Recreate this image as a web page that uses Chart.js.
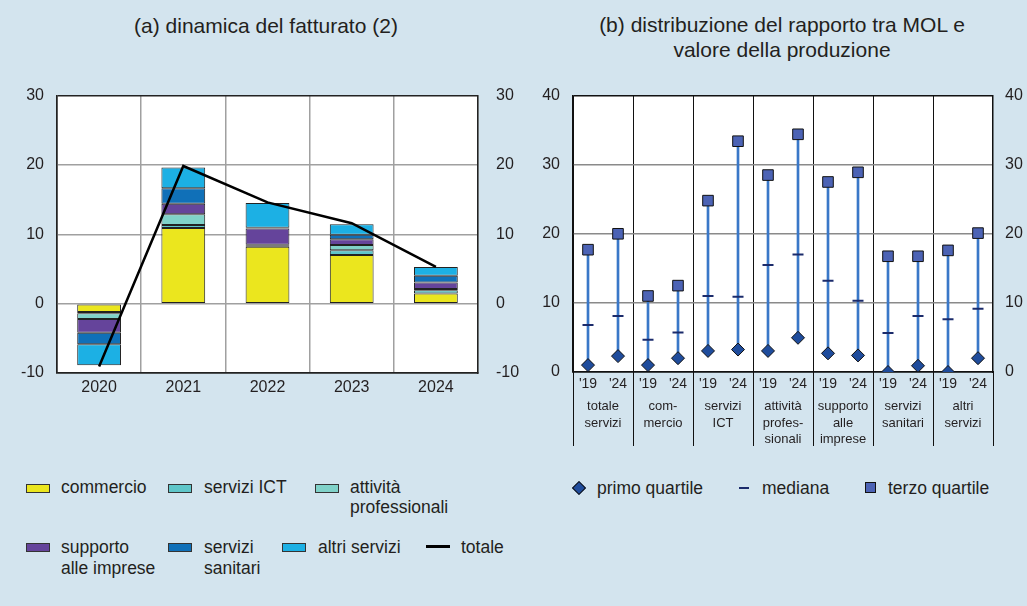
<!DOCTYPE html>
<html>
<head>
<meta charset="utf-8">
<script src="https://cdn.jsdelivr.net/npm/chart.js@4.4.1/dist/chart.umd.min.js"></script>
<style>
body{margin:0;background:#d3e4ee;font-family:"Liberation Sans",Arial,sans-serif;color:#231f20;}
#page{position:relative;width:1027px;height:606px;overflow:hidden;}
.title{position:absolute;text-align:center;font-size:21px;line-height:25px;white-space:nowrap;}
.cv{position:absolute;}
.lt{position:absolute;font-size:17.5px;line-height:20px;white-space:nowrap;}
.box{position:absolute;width:22px;height:7px;border:1px solid #333;}
</style>
</head>
<body>
<div id="page">
  <div class="title" style="left:66px;width:400px;top:13px;">(a) dinamica del fatturato (2)</div>
  <div class="title" style="left:582px;width:400px;top:12px;">(b) distribuzione del rapporto tra MOL e<br>valore della produzione</div>

  <div class="cv" style="left:0;top:68px;width:530px;height:334px;"><canvas id="left"></canvas></div>
  <div class="cv" style="left:520px;top:73px;width:507px;height:388px;"><canvas id="right"></canvas></div>

  <div id="legLeft"></div>
  <div id="legRight"></div>
</div>

<script>
// (a) dinamica del fatturato, contributi per settore
const years = ["2020", "2021", "2022", "2023", "2024"];
const commercio = [-1.2, 10.9, 8.2, 7.0, 1.45];
const serviziICT = [-0.2, 0.45, 0.15, 0.7, 0.5];
const attivitaProf = [-0.8, 1.55, 0.15, 0.75, 0.15];
const supportoImprese = [-2.0, 1.5, 2.35, 0.85, 0.95];
const serviziSanitari = [-1.65, 2.25, 0.1, 0.65, 0.97];
const altriServizi = [-3.05, 3.0, 3.55, 1.5, 1.25];
const totale = [-9.05, 19.85, 14.6, 11.6, 5.3];
const leftTicks = [-10, 0, 10, 20, 30];

// (b) rapporto MOL / valore della produzione
const periodi = ["'19", "'24", "'19", "'24", "'19", "'24", "'19", "'24", "'19", "'24", "'19", "'24", "'19", "'24"];
const settori = [["totale", "servizi"], ["com-", "mercio"], ["servizi", "ICT"], ["attività", "profes-", "sionali"],
                 ["supporto", "alle", "imprese"], ["servizi", "sanitari"], ["altri", "servizi"]];
const primoQuartile = [1.0, 2.3, 1.0, 2.0, 3.05, 3.25, 3.05, 4.95, 2.7, 2.4, 0.0, 0.9, 0.0, 2.0];
const mediana = [6.8, 8.1, 4.65, 5.7, 11.0, 10.9, 15.5, 17.0, 13.2, 10.3, 5.65, 8.1, 7.65, 9.15];
const terzoQuartile = [17.7, 20.0, 11.0, 12.5, 24.8, 33.4, 28.5, 34.4, 27.5, 28.9, 16.75, 16.75, 17.6, 20.1];
const rightTicks = [0, 10, 20, 30, 40];

const colors = {
  commercio: "#ebe61e",
  ict: "#5ec6c9",
  prof: "#80d2c9",
  supporto: "#65449b",
  sanitari: "#1070b8",
  altri: "#1cb0e4"
};
const FONT = "Liberation Sans";
const TXT = "#231f20";

const whiteArea = {
  id: "whiteArea",
  beforeDraw(chart) {
    const a = chart.chartArea, ctx = chart.ctx;
    ctx.save();
    ctx.fillStyle = "#fff";
    ctx.fillRect(a.left, a.top, a.right - a.left, a.bottom - a.top);
    ctx.restore();
  }
};

function fixW(w) { return s => { s.width = w; }; }
function fixH(h) { return s => { s.height = h; }; }

const bar = (label, data, color) => ({
  label, data, backgroundColor: color, borderColor: "#222", borderWidth: 1,
  borderSkipped: false, order: 1, stack: "s"
});

new Chart(document.getElementById("left"), {
  type: "bar",
  data: {
    labels: years,
    datasets: [
      bar("commercio", commercio, colors.commercio),
      bar("servizi ICT", serviziICT, colors.ict),
      bar("attività professionali", attivitaProf, colors.prof),
      bar("supporto alle imprese", supportoImprese, colors.supporto),
      bar("servizi sanitari", serviziSanitari, colors.sanitari),
      bar("altri servizi", altriServizi, colors.altri),
      { type: "line", label: "totale", data: totale, borderColor: "#000", borderWidth: 2.5,
        pointRadius: 0, order: 0, stack: "tot", tension: 0 }
    ]
  },
  options: {
    responsive: true, maintainAspectRatio: false, animation: false,
    devicePixelRatio: 1,
    layout: { padding: { top: 15, left: 0, right: 0, bottom: 0 } },
    plugins: { legend: { display: false }, tooltip: { enabled: false } },
    datasets: { bar: { barPercentage: 0.52, categoryPercentage: 1 } },
    scales: {
      x: {
        stacked: true, offset: true,
        grid: { offset: true, drawTicks: false, color: c => (c.index === 0 || c.index === years.length) ? "#222" : "#a0a0a0", lineWidth: 1.5 },
        border: { display: true, color: "#222", width: 1.5 },
        ticks: { color: TXT, font: { family: FONT, size: 16 }, padding: 5 },
        afterFit: fixH(29)
      },
      y: {
        stacked: true, min: -10, max: 30,
        afterBuildTicks: s => { s.ticks = leftTicks.map(v => ({ value: v })); },
        grid: { drawTicks: false, color: c => (c.tick.value === -10 || c.tick.value === 30) ? "#222" : "#a0a0a0", lineWidth: 1.5 },
        border: { display: true, color: "#222", width: 1.5 },
        ticks: { color: TXT, font: { family: FONT, size: 16 }, padding: 13 },
        afterFit: fixW(57)
      },
      y2: {
        position: "right", min: -10, max: 30,
        afterBuildTicks: s => { s.ticks = leftTicks.map(v => ({ value: v })); },
        grid: { display: false, drawTicks: false },
        border: { display: true, color: "#222", width: 1.5 },
        ticks: { color: TXT, font: { family: FONT, size: 16 }, padding: 18 },
        afterFit: fixW(52)
      }
    }
  },
  plugins: [whiteArea]
});

const groupDividers = {
  id: "groupDividers",
  afterDraw(chart) {
    const x = chart.scales.x, a = chart.chartArea, ctx = chart.ctx;
    ctx.save();
    ctx.strokeStyle = "#111";
    ctx.lineWidth = 1;
    for (let i = 0; i <= periodi.length; i += 2) {
      let px;
      if (i === 0) px = a.left;
      else if (i === periodi.length) px = a.right;
      else px = (x.getPixelForValue(i - 1) + x.getPixelForValue(i)) / 2;
      px = Math.round(px) + 0.5;
      ctx.beginPath();
      ctx.moveTo(px, a.bottom);
      ctx.lineTo(px, a.bottom + 74);
      ctx.stroke();
    }
    ctx.restore();
  }
};

new Chart(document.getElementById("right"), {
  type: "bar",
  data: {
    labels: periodi,
    datasets: [
      { type: "line", label: "primo quartile", data: primoQuartile, showLine: false,
        pointStyle: "rectRot", pointRadius: 6.5, pointBackgroundColor: "#1f4c9c",
        pointBorderColor: "#111", pointBorderWidth: 1, order: 0 },
      { type: "line", label: "mediana", data: mediana, showLine: false,
        pointStyle: "line", pointRadius: 5.5, pointBorderColor: "#1b2b6b",
        pointBorderWidth: 2, order: 0 },
      { type: "line", label: "terzo quartile", data: terzoQuartile, showLine: false,
        pointStyle: "rect", pointRadius: 7.5, pointBackgroundColor: "#4c63b5",
        pointBorderColor: "#111", pointBorderWidth: 1, order: 0 },
      { type: "bar", label: "intervallo", data: primoQuartile.map((v, i) => [v, terzoQuartile[i]]),
        backgroundColor: "#3a78c8", barThickness: 2, order: 2 }
    ]
  },
  options: {
    responsive: true, maintainAspectRatio: false, animation: false,
    devicePixelRatio: 1,
    layout: { padding: { top: 15, left: 0, right: 0, bottom: 0 } },
    plugins: { legend: { display: false }, tooltip: { enabled: false } },
    scales: {
      x: {
        offset: true,
        grid: { offset: true, drawTicks: false, color: c => c.index % 2 === 0 ? "#111" : "rgba(0,0,0,0)", lineWidth: 1 },
        border: { display: true, color: "#111", width: 1.5 },
        ticks: { color: TXT, font: { family: FONT, size: 14 }, padding: 4, maxRotation: 0, autoSkip: false },
        afterFit: fixH(21)
      },
      x2: {
        type: "category", labels: settori, position: "bottom", offset: true,
        grid: { display: false, drawTicks: false },
        border: { display: false },
        ticks: { color: TXT, font: { family: FONT, size: 13, lineHeight: 1.28 }, padding: 5, maxRotation: 0, autoSkip: false },
        afterFit: fixH(68)
      },
      y: {
        min: 0, max: 40,
        afterBuildTicks: s => { s.ticks = rightTicks.map(v => ({ value: v })); },
        grid: { drawTicks: false, color: c => (c.tick.value === 0 || c.tick.value === 40) ? "#111" : "#8a8a8a", lineWidth: 1.5 },
        border: { display: true, color: "#111", width: 1.5 },
        ticks: { color: TXT, font: { family: FONT, size: 16 }, padding: 13 },
        afterFit: fixW(53)
      },
      y2: {
        position: "right", min: 0, max: 40,
        afterBuildTicks: s => { s.ticks = rightTicks.map(v => ({ value: v })); },
        grid: { display: false, drawTicks: false },
        border: { display: true, color: "#111", width: 1.5 },
        ticks: { color: TXT, font: { family: FONT, size: 16 }, padding: 12 },
        afterFit: fixW(34)
      }
    }
  },
  plugins: [whiteArea, groupDividers]
});

// legende (HTML)
const legLeftItems = [
  { box: colors.commercio, bx: 26, by: 484, tx: 61, ty: 477, text: "commercio" },
  { box: colors.ict, bx: 168, by: 484, tx: 204, ty: 477, text: "servizi ICT" },
  { box: colors.prof, bx: 315, by: 484, tx: 350, ty: 477, text: "attività<br>professionali" },
  { box: colors.supporto, bx: 26, by: 543, tx: 61, ty: 537, text: "supporto<br>alle imprese" },
  { box: colors.sanitari, bx: 168, by: 543, tx: 204, ty: 537, text: "servizi<br>sanitari" },
  { box: colors.altri, bx: 282, by: 543, tx: 318, ty: 537, text: "altri servizi" },
  { line: "#000", bx: 426, by: 545, tx: 461, ty: 537, text: "totale" }
];
let html = "";
legLeftItems.forEach(it => {
  if (it.line) {
    html += `<div style="position:absolute;left:${it.bx}px;top:${it.by}px;width:24px;height:2.5px;background:${it.line}"></div>`;
  } else {
    html += `<div class="box" style="left:${it.bx}px;top:${it.by}px;background:${it.box}"></div>`;
  }
  html += `<div class="lt" style="left:${it.tx}px;top:${it.ty}px;${it.text.includes("<br>") && it.by > 500 ? "line-height:21px" : ""}">${it.text}</div>`;
});
document.getElementById("legLeft").innerHTML = html;

document.getElementById("legRight").innerHTML =
  `<div style="position:absolute;left:573.5px;top:483px;width:8px;height:8px;background:#1f4c9c;border:1px solid #111;transform:rotate(45deg)"></div>` +
  `<div class="lt" style="left:597px;top:478px">primo quartile</div>` +
  `<div style="position:absolute;left:739px;top:487px;width:10px;height:2px;background:#1b2b6b"></div>` +
  `<div class="lt" style="left:762px;top:478px">mediana</div>` +
  `<div style="position:absolute;left:865px;top:482px;width:9px;height:9px;background:#4c63b5;border:1px solid #111"></div>` +
  `<div class="lt" style="left:888px;top:478px">terzo quartile</div>`;
</script>
</body>
</html>
